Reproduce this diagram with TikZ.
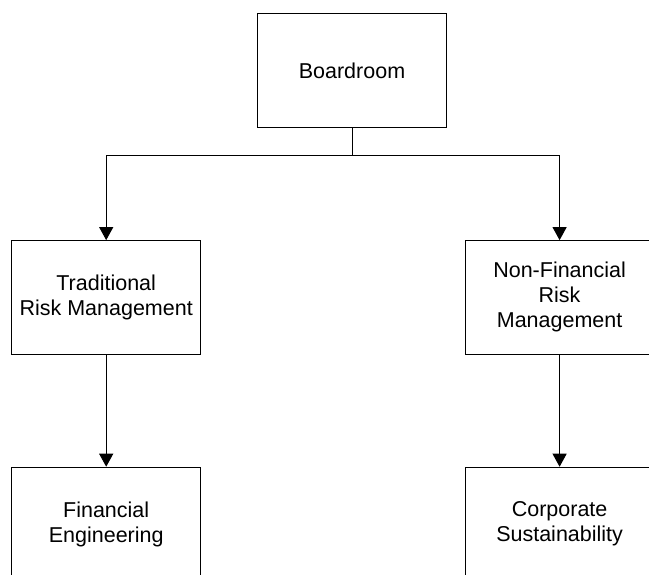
\documentclass[tikz,border=0pt]{standalone}
\usepackage{fontspec}
\setmainfont{Liberation Sans}
\usetikzlibrary{arrows.meta}

\begin{document}
\begin{tikzpicture}[x=1pt,y=1pt,
  box/.style={rectangle, draw, line width=1pt, minimum width=189pt, minimum height=113.5pt, inner sep=0pt, align=center, font=\fontsize{21.5}{25}\selectfont},
  link/.style={line width=1pt, -{Triangle[width=14pt,length=13pt]}}]
\useasboundingbox (0,0) rectangle (649,575);
\clip (0,0) rectangle (649,575);
% Boxes
\node[box] (board) at (352,504.4) {Boardroom};
\node[box] (trad) at (106.2,277.6) {Traditional\\Risk Management};
\node[box] (nonfin) at (559.6,277.6) {Non-Financial\\Risk\\Management};
\node[box] (fineng) at (106.2,51) {Financial\\Engineering};
\node[box] (corp) at (559.6,51) {Corporate\\Sustainability};
\coordinate (fork) at (352,419.3);

%Lines
\draw[line width=1pt] (board) -- (fork);
\draw[link] (fork) -| (trad);
\draw[link] (fork) -| (nonfin);
\draw[link] (trad) -- (fineng);
\draw[link] (nonfin) -- (corp);
\end{tikzpicture}
\end{document}
